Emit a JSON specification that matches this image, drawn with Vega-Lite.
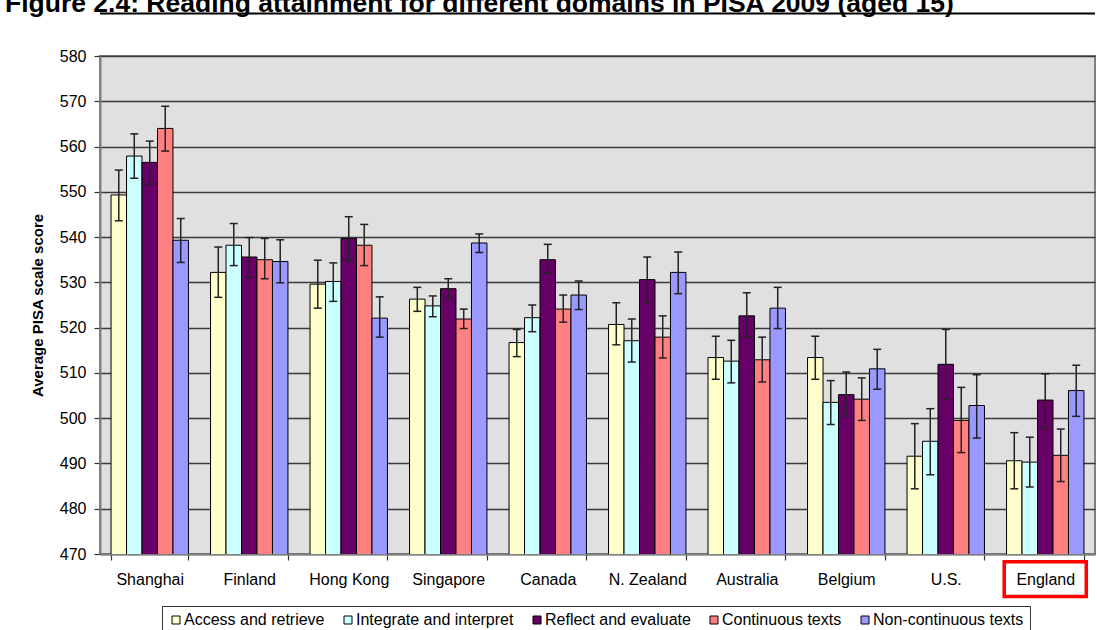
{
  "$schema": "https://vega.github.io/schema/vega-lite/v6.json",
  "width": 995,
  "height": 498,
  "autosize": {"type": "none"},
  "padding": {"left": 100, "top": 56, "right": 2, "bottom": 76},
  "background": "white",
  "title": {
    "text": "Figure 2.4: Reading attainment for different domains in PISA 2009 (aged 15)",
    "anchor": "start",
    "frame": "group",
    "font": "Liberation Sans",
    "fontSize": 26.5,
    "fontWeight": "bold",
    "color": "black",
    "dx": -95,
    "dy": 5,
    "offset": 0
  },
  "data": {
    "values": [
      {"country": "Shanghai", "domain": "Access and retrieve", "score": 549.3, "lo": 543.6, "hi": 554.8},
      {"country": "Shanghai", "domain": "Integrate and interpret", "score": 557.9, "lo": 553.0, "hi": 562.8},
      {"country": "Shanghai", "domain": "Reflect and evaluate", "score": 556.5, "lo": 551.7, "hi": 561.2},
      {"country": "Shanghai", "domain": "Continuous texts", "score": 564.0, "lo": 559.0, "hi": 568.9},
      {"country": "Shanghai", "domain": "Non-continuous texts", "score": 539.3, "lo": 534.4, "hi": 544.1},
      {"country": "Finland", "domain": "Access and retrieve", "score": 532.2, "lo": 526.7, "hi": 537.8},
      {"country": "Finland", "domain": "Integrate and interpret", "score": 538.2, "lo": 533.7, "hi": 543.0},
      {"country": "Finland", "domain": "Reflect and evaluate", "score": 535.6, "lo": 531.1, "hi": 539.9},
      {"country": "Finland", "domain": "Continuous texts", "score": 535.0, "lo": 530.8, "hi": 539.7},
      {"country": "Finland", "domain": "Non-continuous texts", "score": 534.6, "lo": 529.9, "hi": 539.4},
      {"country": "Hong Kong", "domain": "Access and retrieve", "score": 529.6, "lo": 524.3, "hi": 534.9},
      {"country": "Hong Kong", "domain": "Integrate and interpret", "score": 530.2, "lo": 525.8, "hi": 534.3},
      {"country": "Hong Kong", "domain": "Reflect and evaluate", "score": 539.7, "lo": 534.8, "hi": 544.5},
      {"country": "Hong Kong", "domain": "Continuous texts", "score": 538.2, "lo": 533.7, "hi": 542.8},
      {"country": "Hong Kong", "domain": "Non-continuous texts", "score": 522.1, "lo": 517.9, "hi": 526.8},
      {"country": "Singapore", "domain": "Access and retrieve", "score": 526.3, "lo": 523.6, "hi": 528.9},
      {"country": "Singapore", "domain": "Integrate and interpret", "score": 524.8, "lo": 522.4, "hi": 527.0},
      {"country": "Singapore", "domain": "Reflect and evaluate", "score": 528.6, "lo": 526.4, "hi": 530.8},
      {"country": "Singapore", "domain": "Continuous texts", "score": 521.9, "lo": 519.8, "hi": 524.1},
      {"country": "Singapore", "domain": "Non-continuous texts", "score": 538.7, "lo": 536.6, "hi": 540.7},
      {"country": "Canada", "domain": "Access and retrieve", "score": 516.7, "lo": 513.6, "hi": 519.6},
      {"country": "Canada", "domain": "Integrate and interpret", "score": 522.2, "lo": 519.1, "hi": 525.0},
      {"country": "Canada", "domain": "Reflect and evaluate", "score": 535.0, "lo": 532.0, "hi": 538.4},
      {"country": "Canada", "domain": "Continuous texts", "score": 524.1, "lo": 521.2, "hi": 527.2},
      {"country": "Canada", "domain": "Non-continuous texts", "score": 527.2, "lo": 524.0, "hi": 530.3},
      {"country": "N. Zealand", "domain": "Access and retrieve", "score": 520.7, "lo": 516.2, "hi": 525.5},
      {"country": "N. Zealand", "domain": "Integrate and interpret", "score": 517.1, "lo": 512.4, "hi": 521.9},
      {"country": "N. Zealand", "domain": "Reflect and evaluate", "score": 530.6, "lo": 525.6, "hi": 535.6},
      {"country": "N. Zealand", "domain": "Continuous texts", "score": 517.9, "lo": 513.3, "hi": 522.6},
      {"country": "N. Zealand", "domain": "Non-continuous texts", "score": 532.2, "lo": 527.5, "hi": 536.7},
      {"country": "Australia", "domain": "Access and retrieve", "score": 513.4, "lo": 508.6, "hi": 518.1},
      {"country": "Australia", "domain": "Integrate and interpret", "score": 512.6, "lo": 507.8, "hi": 517.2},
      {"country": "Australia", "domain": "Reflect and evaluate", "score": 522.6, "lo": 517.9, "hi": 527.7},
      {"country": "Australia", "domain": "Continuous texts", "score": 512.9, "lo": 508.0, "hi": 517.9},
      {"country": "Australia", "domain": "Non-continuous texts", "score": 524.3, "lo": 519.8, "hi": 528.9},
      {"country": "Belgium", "domain": "Access and retrieve", "score": 513.4, "lo": 508.6, "hi": 518.1},
      {"country": "Belgium", "domain": "Integrate and interpret", "score": 503.5, "lo": 498.6, "hi": 508.3},
      {"country": "Belgium", "domain": "Reflect and evaluate", "score": 505.2, "lo": 500.5, "hi": 510.2},
      {"country": "Belgium", "domain": "Continuous texts", "score": 504.2, "lo": 499.5, "hi": 508.9},
      {"country": "Belgium", "domain": "Non-continuous texts", "score": 510.9, "lo": 506.4, "hi": 515.2},
      {"country": "U.S.", "domain": "Access and retrieve", "score": 491.6, "lo": 484.4, "hi": 498.8},
      {"country": "U.S.", "domain": "Integrate and interpret", "score": 494.9, "lo": 487.5, "hi": 502.1},
      {"country": "U.S.", "domain": "Reflect and evaluate", "score": 511.9, "lo": 504.1, "hi": 519.6},
      {"country": "U.S.", "domain": "Continuous texts", "score": 499.5, "lo": 492.4, "hi": 506.8},
      {"country": "U.S.", "domain": "Non-continuous texts", "score": 502.8, "lo": 495.6, "hi": 509.6},
      {"country": "England", "domain": "Access and retrieve", "score": 490.6, "lo": 484.4, "hi": 496.8},
      {"country": "England", "domain": "Integrate and interpret", "score": 490.3, "lo": 484.8, "hi": 495.8},
      {"country": "England", "domain": "Reflect and evaluate", "score": 504.0, "lo": 497.9, "hi": 509.8},
      {"country": "England", "domain": "Continuous texts", "score": 491.8, "lo": 486.0, "hi": 497.6},
      {"country": "England", "domain": "Non-continuous texts", "score": 506.1, "lo": 500.4, "hi": 511.7}
    ]
  },
  "encoding": {
    "x": {
      "field": "country",
      "type": "nominal",
      "sort": null,
      "scale": {"paddingInner": 0.222, "paddingOuter": 0.111},
      "axis": {
        "title": null,
        "labelAngle": 0,
        "labelFont": "Liberation Sans",
        "labelFontSize": 16,
        "labelColor": "black",
        "labelPadding": 11,
        "tickBand": "extent",
        "tickSize": 6,
        "tickColor": "#333333",
        "tickWidth": 1.2,
        "domainColor": "#808080",
        "domainWidth": 2,
        "grid": false
      }
    }
  },
  "layer": [
    {
      "mark": {"type": "bar", "stroke": "black", "strokeWidth": 1, "clip": true},
      "encoding": {
        "xOffset": {"field": "domain", "type": "nominal", "sort": null, "scale": {"paddingInner": 0, "paddingOuter": 0}},
        "y": {
          "field": "score",
          "type": "quantitative",
          "scale": {"domain": [470, 580], "nice": false, "zero": false},
          "axis": {
            "title": "Average PISA scale score",
            "titleFont": "Liberation Sans",
            "titleFontSize": 15,
            "titleFontWeight": "bold",
            "titleColor": "black",
            "titlePadding": 14,
            "values": [470, 480, 490, 500, 510, 520, 530, 540, 550, 560, 570, 580],
            "labelFont": "Liberation Sans",
            "labelFontSize": 16,
            "labelColor": "black",
            "labelPadding": 8,
            "tickSize": 6,
            "tickColor": "#333333",
            "tickWidth": 1.2,
            "domainColor": "#808080",
            "domainWidth": 2,
            "grid": true,
            "gridColor": "#3a3a3a",
            "gridWidth": 1.4
          }
        },
        "color": {
          "field": "domain",
          "type": "nominal",
          "scale": {
            "domain": ["Access and retrieve", "Integrate and interpret", "Reflect and evaluate", "Continuous texts", "Non-continuous texts"],
            "range": ["#FFFFCC", "#CCFFFF", "#660066", "#FF8080", "#9999FF"]
          },
          "legend": {
            "title": null,
            "orient": "none",
            "legendX": 62,
            "legendY": 550,
            "direction": "horizontal",
            "symbolType": "square",
            "symbolSize": 64,
            "symbolStrokeColor": "black",
            "symbolStrokeWidth": 1,
            "symbolOpacity": 1,
            "labelFont": "Liberation Sans",
            "labelFontSize": 16,
            "labelColor": "black",
            "labelOffset": 0,
            "columnPadding": 15,
            "padding": 6,
            "strokeColor": "#333333"
          }
        }
      }
    },
    {
      "mark": {"type": "rule", "color": "#222222", "strokeWidth": 1.5},
      "encoding": {
        "xOffset": {"field": "domain", "type": "nominal", "sort": null},
        "y": {"field": "lo", "type": "quantitative"},
        "y2": {"field": "hi"}
      }
    },
    {
      "mark": {"type": "tick", "color": "#222222", "size": 8, "thickness": 1.5, "opacity": 1, "orient": "horizontal"},
      "encoding": {
        "xOffset": {"field": "domain", "type": "nominal", "sort": null},
        "y": {"field": "lo", "type": "quantitative"}
      }
    },
    {
      "mark": {"type": "tick", "color": "#222222", "size": 8, "thickness": 1.5, "opacity": 1, "orient": "horizontal"},
      "encoding": {
        "xOffset": {"field": "domain", "type": "nominal", "sort": null},
        "y": {"field": "hi", "type": "quantitative"}
      }
    },
    {
      "data": {"values": [{"country": "England"}]},
      "mark": {"type": "rect", "fill": null, "fillOpacity": 0, "stroke": "#FF0000", "strokeWidth": 3.5, "width": {"band": 1.06}},
      "encoding": {
        "y": {"datum": 468.3},
        "y2": {"datum": 460.6}
      }
    },
    {
      "data": {"values": [{}]},
      "mark": {"type": "rule", "color": "black", "strokeWidth": 2},
      "encoding": {
        "x": null,
        "y": {"datum": 589.4}
      }
    }
  ],
  "config": {
    "view": {"fill": "#e0e0e0", "stroke": "#808080", "strokeWidth": 2},
    "font": "Liberation Sans"
  }
}
